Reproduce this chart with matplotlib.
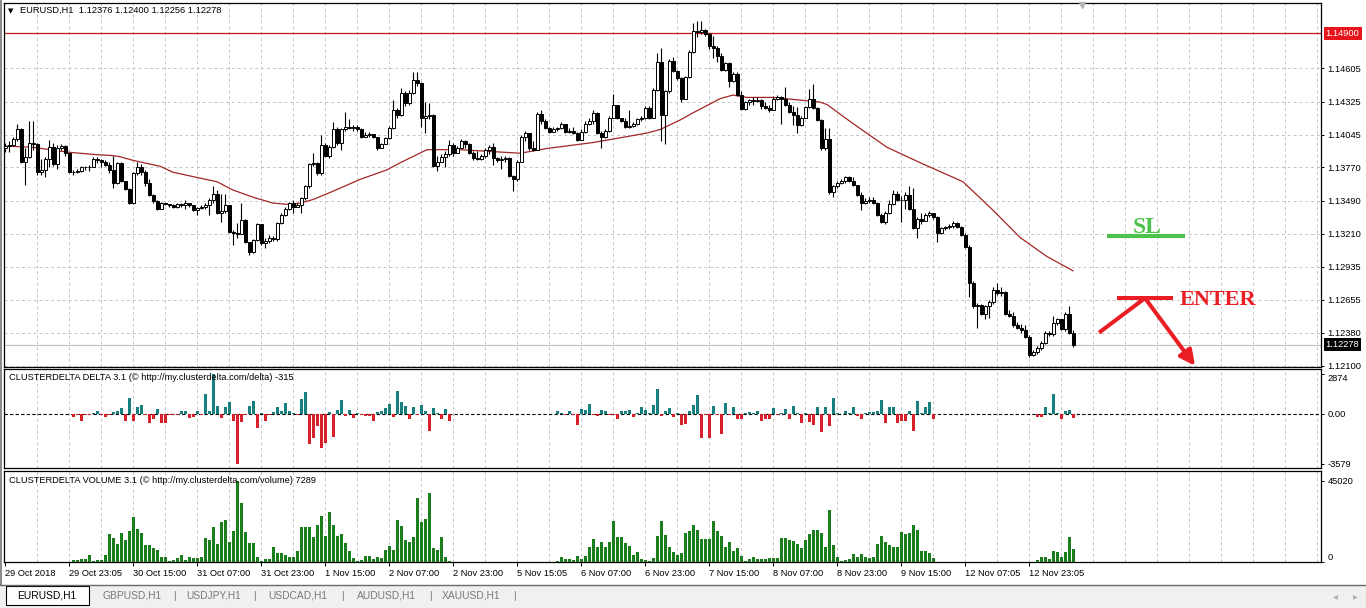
import numpy as np
import matplotlib
matplotlib.use('Agg')
import matplotlib.pyplot as plt
import matplotlib.transforms as mtransforms
from matplotlib.patches import Rectangle
from matplotlib.lines import Line2D
from matplotlib.ticker import FixedLocator

plt.rcParams['font.family'] = ['Liberation Sans', 'DejaVu Sans']

# EURUSD H1 bars, 29 Oct 07:00 .. 13 Nov 10:00 (open = previous close)
first_open = 1.1393
closes = [
    1.1395, 1.1396, 1.1401, 1.1409, 1.1382, 1.1386, 1.1398, 1.1397, 1.1373, 1.1375,
    1.1384, 1.1394, 1.1380, 1.1393, 1.1395, 1.1389, 1.1373, 1.1373, 1.1374, 1.1377,
    1.1377, 1.1377, 1.1384, 1.1383, 1.1382, 1.1379, 1.1375, 1.1364, 1.1381, 1.1366,
    1.1359, 1.1347, 1.1372, 1.1377, 1.1373, 1.1364, 1.1354, 1.1349, 1.1342, 1.1347,
    1.1346, 1.1345, 1.1344, 1.1346, 1.1345, 1.1347, 1.1345, 1.1341, 1.1343, 1.1344,
    1.1345, 1.1350, 1.1355, 1.1339, 1.1340, 1.1345, 1.1323, 1.1322, 1.1321, 1.1333,
    1.1314, 1.1306, 1.1316, 1.1329, 1.1313, 1.1315, 1.1318, 1.1317, 1.1330, 1.1337,
    1.1342, 1.1347, 1.1344, 1.1345, 1.1351, 1.1361, 1.1380, 1.1381, 1.1372, 1.1396,
    1.1387, 1.1394, 1.1409, 1.1398, 1.1409, 1.1411, 1.1410, 1.1411, 1.1409, 1.1403,
    1.1404, 1.1405, 1.1403, 1.1393, 1.1397, 1.1402, 1.1410, 1.1425, 1.1421, 1.1440,
    1.1431, 1.1440, 1.1451, 1.1448, 1.1419, 1.1420, 1.1421, 1.1378, 1.1382, 1.1386,
    1.1388, 1.1396, 1.1389, 1.1393, 1.1399, 1.1397, 1.1389, 1.1385, 1.1384, 1.1387,
    1.1392, 1.1394, 1.1385, 1.1383, 1.1384, 1.1385, 1.1370, 1.1367, 1.1382, 1.1403,
    1.1406, 1.1393, 1.1392, 1.1422, 1.1416, 1.1410, 1.1407, 1.1409, 1.1410, 1.1414,
    1.1407, 1.1408, 1.1406, 1.1400, 1.1407, 1.1414, 1.1416, 1.1423, 1.1406, 1.1403,
    1.1408, 1.1419, 1.1430, 1.1419, 1.1416, 1.1411, 1.1412, 1.1414, 1.1418, 1.1419,
    1.1427, 1.1419, 1.1442, 1.1466, 1.1421, 1.1441, 1.1467, 1.1458, 1.1452, 1.1435,
    1.1453, 1.1474, 1.1492, 1.1491, 1.1493, 1.1489, 1.1479, 1.1478, 1.1471, 1.1459,
    1.1465, 1.1450, 1.1456, 1.1438, 1.1426, 1.1432, 1.1434, 1.1433, 1.1434, 1.1429,
    1.1427, 1.1425, 1.1435, 1.1436, 1.1435, 1.1430, 1.1424, 1.1421, 1.1413, 1.1419,
    1.1428, 1.1435, 1.1427, 1.1417, 1.1393, 1.1401, 1.1356, 1.1361, 1.1364, 1.1366,
    1.1369, 1.1366, 1.1362, 1.1354, 1.1347, 1.1349, 1.1350, 1.1347, 1.1337, 1.1331,
    1.1339, 1.1346, 1.1355, 1.1350, 1.1350, 1.1354, 1.1342, 1.1326, 1.1334, 1.1332,
    1.1337, 1.1339, 1.1335, 1.1322, 1.1326, 1.1327, 1.1328, 1.1330, 1.1327, 1.1320,
    1.1310, 1.1280, 1.1260, 1.1261, 1.1254, 1.1260, 1.1264, 1.1274, 1.1271, 1.1272,
    1.1254, 1.1252, 1.1244, 1.1242, 1.1240, 1.1234, 1.1219, 1.1222, 1.1225, 1.1229,
    1.1238, 1.1237, 1.1246, 1.1249, 1.1241, 1.1254, 1.12376, 1.12278,
]
highs = [
    1.1398, 1.1399, 1.1403, 1.1414, 1.1410, 1.1393, 1.1416, 1.1416, 1.1398, 1.1384,
    1.1386, 1.1400, 1.1398, 1.1396, 1.1397, 1.1396, 1.1385, 1.1375, 1.1376, 1.1378,
    1.1378, 1.1379, 1.1386, 1.1386, 1.1384, 1.1383, 1.1382, 1.1387, 1.1382, 1.1382,
    1.1366, 1.1360, 1.1373, 1.1382, 1.1380, 1.1375, 1.1367, 1.1355, 1.1350, 1.1348,
    1.1347, 1.1346, 1.1346, 1.1347, 1.1347, 1.1350, 1.1347, 1.1345, 1.1344, 1.1345,
    1.1347, 1.1351, 1.1361, 1.1358, 1.1355, 1.1355, 1.1345, 1.1324, 1.1330, 1.1347,
    1.1334, 1.1314, 1.1317, 1.1330, 1.1329, 1.1318, 1.1320, 1.1319, 1.1331, 1.1339,
    1.1344, 1.1348, 1.1350, 1.1347, 1.1352, 1.1362, 1.1381, 1.1389, 1.1382, 1.1404,
    1.1398, 1.1396, 1.1415, 1.1411, 1.1410, 1.1424, 1.1418, 1.1413, 1.1413, 1.1410,
    1.1407, 1.1407, 1.1405, 1.1403, 1.1398, 1.1403, 1.1412, 1.1434, 1.1427, 1.1444,
    1.1441, 1.1442, 1.1457, 1.1457, 1.1449, 1.1432, 1.1431, 1.1422, 1.1387, 1.1388,
    1.1391, 1.1400, 1.1398, 1.1395, 1.1401, 1.1400, 1.1398, 1.1391, 1.1391, 1.1388,
    1.1393, 1.1396, 1.1398, 1.1386, 1.1387, 1.1387, 1.1386, 1.1371, 1.1383, 1.1404,
    1.1408, 1.1405, 1.1399, 1.1424, 1.1425, 1.1418, 1.1411, 1.1411, 1.1411, 1.1415,
    1.1414, 1.1410, 1.1411, 1.1407, 1.1409, 1.1416, 1.1419, 1.1425, 1.1424, 1.1408,
    1.1409, 1.1420, 1.1439, 1.1430, 1.1419, 1.1419, 1.1425, 1.1415, 1.1419, 1.1420,
    1.1429, 1.1429, 1.1444, 1.1473, 1.1478, 1.1442, 1.1468, 1.1470, 1.1459, 1.1453,
    1.1454, 1.1476, 1.1499, 1.1500, 1.1500, 1.1494, 1.1490, 1.1488, 1.1479, 1.1473,
    1.1466, 1.1466, 1.1457, 1.1457, 1.1441, 1.1433, 1.1435, 1.1436, 1.1436, 1.1435,
    1.1432, 1.1430, 1.1437, 1.1438, 1.1437, 1.1445, 1.1432, 1.1429, 1.1428, 1.1420,
    1.1429, 1.1443, 1.1447, 1.1428, 1.1418, 1.1410, 1.1410, 1.1362, 1.1366, 1.1367,
    1.1370, 1.1370, 1.1369, 1.1362, 1.1356, 1.1351, 1.1352, 1.1352, 1.1348, 1.1339,
    1.1340, 1.1350, 1.1358, 1.1357, 1.1353, 1.1356, 1.1361, 1.1360, 1.1335, 1.1339,
    1.1339, 1.1340, 1.1339, 1.1336, 1.1327, 1.1328, 1.1329, 1.1332, 1.1331, 1.1328,
    1.1322, 1.1312, 1.1281, 1.1263, 1.1262, 1.1261, 1.1265, 1.1276, 1.1280, 1.1276,
    1.1273, 1.1257, 1.1255, 1.1247, 1.1245, 1.1244, 1.1236, 1.1223, 1.1227, 1.1231,
    1.1239, 1.1239, 1.1252, 1.1250, 1.1249, 1.1255, 1.1260, 1.12400,
]
lows = [
    1.1390, 1.1390, 1.1395, 1.1399, 1.1381, 1.1362, 1.1385, 1.1392, 1.1371, 1.1371,
    1.1369, 1.1377, 1.1378, 1.1376, 1.1392, 1.1387, 1.1372, 1.1371, 1.1372, 1.1373,
    1.1375, 1.1374, 1.1377, 1.1381, 1.1377, 1.1378, 1.1372, 1.1360, 1.1363, 1.1365,
    1.1358, 1.1346, 1.1346, 1.1371, 1.1371, 1.1361, 1.1353, 1.1347, 1.1341, 1.1342,
    1.1345, 1.1344, 1.1343, 1.1343, 1.1344, 1.1342, 1.1344, 1.1340, 1.1337, 1.1342,
    1.1342, 1.1337, 1.1347, 1.1338, 1.1331, 1.1339, 1.1322, 1.1312, 1.1318, 1.1321,
    1.1313, 1.1303, 1.1305, 1.1315, 1.1312, 1.1309, 1.1313, 1.1315, 1.1315, 1.1329,
    1.1336, 1.1341, 1.1339, 1.1344, 1.1339, 1.1350, 1.1360, 1.1378, 1.1371, 1.1371,
    1.1386, 1.1385, 1.1393, 1.1396, 1.1392, 1.1408, 1.1409, 1.1408, 1.1408, 1.1402,
    1.1403, 1.1403, 1.1402, 1.1392, 1.1393, 1.1397, 1.1401, 1.1409, 1.1419, 1.1420,
    1.1429, 1.1430, 1.1439, 1.1446, 1.1411, 1.1406, 1.1418, 1.1377, 1.1374, 1.1382,
    1.1377, 1.1387, 1.1387, 1.1392, 1.1393, 1.1393, 1.1388, 1.1383, 1.1383, 1.1383,
    1.1385, 1.1388, 1.1379, 1.1382, 1.1376, 1.1382, 1.1369, 1.1357, 1.1366, 1.1382,
    1.1399, 1.1392, 1.1391, 1.1392, 1.1414, 1.1409, 1.1406, 1.1407, 1.1408, 1.1409,
    1.1406, 1.1406, 1.1405, 1.1399, 1.1400, 1.1406, 1.1413, 1.1414, 1.1405, 1.1393,
    1.1402, 1.1407, 1.1419, 1.1418, 1.1415, 1.1410, 1.1410, 1.1411, 1.1413, 1.1416,
    1.1418, 1.1418, 1.1419, 1.1441, 1.1399, 1.1397, 1.1440, 1.1457, 1.1451, 1.1432,
    1.1435, 1.1452, 1.1473, 1.1487, 1.1489, 1.1488, 1.1477, 1.1469, 1.1466, 1.1458,
    1.1458, 1.1445, 1.1449, 1.1437, 1.1425, 1.1425, 1.1430, 1.1430, 1.1432, 1.1426,
    1.1426, 1.1424, 1.1425, 1.1434, 1.1414, 1.1429, 1.1423, 1.1413, 1.1406, 1.1412,
    1.1419, 1.1427, 1.1426, 1.1416, 1.1392, 1.1392, 1.1355, 1.1352, 1.1360, 1.1363,
    1.1364, 1.1365, 1.1361, 1.1353, 1.1341, 1.1346, 1.1347, 1.1346, 1.1336, 1.1330,
    1.1329, 1.1338, 1.1345, 1.1349, 1.1331, 1.1342, 1.1341, 1.1325, 1.1318, 1.1329,
    1.1332, 1.1335, 1.1334, 1.1314, 1.1321, 1.1324, 1.1325, 1.1326, 1.1326, 1.1319,
    1.1309, 1.1268, 1.1259, 1.1242, 1.1253, 1.1249, 1.1250, 1.1262, 1.1270, 1.1269,
    1.1253, 1.1251, 1.1243, 1.1241, 1.1238, 1.1233, 1.1217, 1.1218, 1.1220, 1.1223,
    1.1228, 1.1235, 1.1235, 1.1244, 1.1240, 1.1239, 1.1237, 1.12256,
]

# moving average line, read at sparse bars
ma_idx = [0, 6.9, 15.4, 21.9, 26.9, 28.7, 31.9, 38.7, 41.9, 48.7, 52.9, 56.9, 61.9,
          66.9, 70.4, 73.7, 76.9, 81.9, 88.7, 95.4, 98.7, 105.4, 113.7, 123.7, 128.7,
          135.4, 146.9, 155.4, 160.4, 163.7, 168.7, 171.9, 178.7, 181.9, 185.4, 191.9,
          197.9, 203.7, 205.4, 211.9, 220.4, 228.7, 239.4, 246.9, 253.7, 260.4, 266.9]
ma_vals = [1.1395, 1.1394, 1.1390, 1.1388, 1.1387, 1.1386, 1.1383, 1.1378, 1.1373,
           1.1368, 1.1365, 1.1358, 1.1352, 1.1347, 1.1346, 1.1347, 1.1350, 1.1357,
           1.1367, 1.1375, 1.1381, 1.1392, 1.1392, 1.1390, 1.1389, 1.1393, 1.1398,
           1.1403, 1.1406, 1.1409, 1.1417, 1.1423, 1.1435, 1.1438, 1.1436, 1.1436,
           1.1434, 1.1432, 1.1430, 1.1414, 1.1394, 1.1381, 1.1365, 1.1341, 1.1318,
           1.1302, 1.1290]

# clusterdelta delta / volume, three blocks of bars
block_start = [17, 138, 258]
delta_a = [
    -190, -95, -474, -95, -47, 95, 190, -95, -237, -95,
    142, 237, 427, -474, 1138, -521, 474, 616, -95, -640,
    -332, 332, -640, -640, -95, -47, -95, 190, 237, -284,
    -237, 190, -95, 1422, 237, 2874, 545, -284, 474, 853,
    -474, -3579, -569, -47, 545, 901, -995, 47, -474, -95,
    142, 474, 237, 782, 190, 47, -47, 1090, 1612, -2133,
    -1754, -877, -2465, -2062, 142, -1635, 308, 995, -166, 308,
    -284, 47, -95, -166, -166, -521, 142, 237, 427, 711,
    -237, 1659, 853, 545, -332, 474, -95, 664, 237, -1232,
    427, 47, -332, 379, -474,
]
delta_b = [
    190, 47, -47, 190, -95, -758, 379, 284, 711, -95,
    -166, 308, 190, -95, -95, -332, 190, 237, 308, -237,
    47, 474, 308, 47, 664, 1801, -166, 237, 427, -237,
    47, -758, -711, 190, 616, 1375, -1754, -47, -1754, 545,
    -95, -1469, 782, -95, 474, -332, -332, 47, 142, 47,
    190, -474, -332, -332, 427, -95, 47, 379, -332, 545,
    47, -640, 47, -569, -758, 474, -1280, 474, -877, 1185,
    47, 20, 190, 47, 474, -166, -332, 47, 142, 142,
    237, 1019, -640, 474, 474, -640, -474, -474, 237, -1232,
    901, 47, 474, 853, -332,
]
delta_c = [-194, -194, 499, 83, 1440, 55, -332, 222, 277, -315]

vol_a = [
    923, 923, 1846, 1846, 3692, 738, 923, 1292, 3692, 15506,
    13291, 9968, 16060, 11999, 16983, 24736, 18275, 15876, 9599, 9599,
    7753, 6830, 2584, 2584, 738, 1292, 2215, 3692, 1292, 2584,
    2215, 2215, 2584, 13291, 11999, 19198, 9968, 21967, 23260, 10891,
    17352, 45020, 32674, 16614, 10522, 10522, 2584, 600, 1661, 1661,
    8122, 4984, 4984, 3692, 2584, 2584, 5907, 19198, 19198, 19198,
    13660, 20306, 25290, 14583, 27690, 20675, 14583, 15506, 10522, 5907,
    2215, 738, 923, 3507, 3507, 1661, 2584, 2215, 6830, 8676,
    6830, 23444, 19752, 12368, 11076, 13660, 35443, 22152, 23998, 38212,
    7753, 6830, 13660, 2584, 738,
]
vol_b = [
    738, 2584, 1661, 1661, 1108, 3138, 1661, 3138, 8122, 12737,
    8307, 11076, 8307, 11076, 22521, 13660, 13660, 10522, 8676, 3692,
    5353, 1846, 1292, 300, 2215, 14214, 22521, 15137, 8122, 5538,
    3692, 4984, 16060, 16983, 20306, 17906, 12922, 12922, 12922, 22521,
    16983, 14214, 8122, 10891, 6276, 7753, 3138, 300, 1846, 2584,
    1661, 1661, 1661, 2215, 2215, 2215, 13291, 13291, 11999, 11445,
    10153, 7753, 11999, 15506, 17537, 17906, 16060, 8122, 28613, 9599,
    2584, 300, 1108, 1846, 4430, 2584, 4430, 2584, 2215, 2584,
    9968, 14214, 10891, 9230, 8122, 8122, 16614, 15506, 16060, 20306,
    17537, 5907, 5907, 4984, 2215,
]
vol_c = [1077, 2585, 3016, 1723, 6031, 5385, 3016, 5385, 14001, 7289]

time_labels = ['29 Oct 2018', '29 Oct 23:05', '30 Oct 15:00', '31 Oct 07:00',
               '31 Oct 23:00', '1 Nov 15:00', '2 Nov 07:00', '2 Nov 23:00',
               '5 Nov 15:05', '6 Nov 07:00', '6 Nov 23:00', '7 Nov 15:00',
               '8 Nov 07:00', '8 Nov 23:00', '9 Nov 15:00', '12 Nov 07:05',
               '12 Nov 23:05']
price_ticks = [1.14605, 1.14325, 1.14045, 1.13770, 1.13490, 1.13210, 1.12935,
               1.12655, 1.12380, 1.12100]
level_price = 1.14900
last_price = 1.12278
header = 'EURUSD,H1  1.12376 1.12400 1.12256 1.12278'

# hand-drawn trade idea on the right
sl_price = 1.1319
enter_price = 1.1267
arrow_from = 1.12379
arrow_to = 1.1210

tabs = ['EURUSD,H1', 'GBPUSD,H1', 'USDJPY,H1', 'USDCAD,H1', 'AUDUSD,H1', 'XAUUSD,H1']

W, H = 1366, 608
fig = plt.figure(figsize=(W / 100, H / 100), dpi=100)
fig.patch.set_facecolor('white')


def panel(top, bottom):
    return fig.add_axes([4 / W, 1 - bottom / H, 1317 / W, (bottom - top) / H])


ax1 = panel(3, 367)
ax2 = panel(369, 468)
ax3 = panel(471, 562)

grid_kw = dict(color='#c4c4c4', lw=0.7, ls=(0, (3, 3)))
for ax in (ax1, ax2, ax3):
    ax.set_xlim(-0.35, 328.9)
    ax.xaxis.set_minor_locator(FixedLocator(range(8, 329, 8)))
    ax.xaxis.remove_overlapping_locs = False
    ax.grid(True, which='minor', axis='x', **grid_kw)
    ax.tick_params(axis='x', which='minor', length=0)
    ax.yaxis.tick_right()
    ax.tick_params(axis='y', length=2, width=0.7, pad=2.5, labelsize=6.7)
    for s in ax.spines.values():
        s.set_linewidth(0.9)
    ax.set_axisbelow(True)

# ---- price panel ----
c = np.array(closes)
o = np.r_[first_open, c[:-1]]
hi = np.maximum(np.array(highs), np.maximum(o, c))
lo = np.minimum(np.array(lows), np.minimum(o, c))
idx = np.arange(len(c))

ax1.set_ylim(1.12090, 1.15155)
ax1.set_yticks(price_ticks)
ax1.set_yticklabels(['%.5f' % p for p in price_ticks])
ax1.grid(True, which='major', axis='y', **grid_kw)
ax1.set_xticks([])

ax1.axhline(last_price, color='#bdbdbd', lw=0.8, zorder=1)
ax1.axhline(level_price, color='#c8141e', lw=0.9, zorder=2)
ax1.plot(ma_idx, ma_vals, color='#a32626', lw=0.9, zorder=2)
ax1.vlines(idx, lo, hi, color='black', lw=0.8, zorder=3)
ax1.bar(idx, np.abs(c - o), bottom=np.minimum(o, c), width=0.55,
        color=np.where(c >= o, 'white', 'black'), edgecolor='black', lw=0.7, zorder=4)

tr1 = mtransforms.blended_transform_factory(ax1.transAxes, ax1.transData)
ax1.text(1.0035, level_price, '%.5f' % level_price, transform=tr1, color='white',
         fontsize=6.7, va='center', ha='left',
         bbox=dict(boxstyle='square,pad=0.22', fc='#e8141c', ec='none'))
ax1.text(1.0035, last_price, '%.5f' % last_price, transform=tr1, color='white',
         fontsize=6.7, va='center', ha='left',
         bbox=dict(boxstyle='square,pad=0.22', fc='black', ec='none'))

fig.text(8 / W, 1 - 10.7 / H, '\u25bc', fontsize=5, va='center', family='DejaVu Sans')
fig.text(20.5 / W, 1 - 10.7 / H, header, fontsize=6.7, va='center')
fig.add_artist(Line2D([1082 / W], [1 - 5 / H], marker='v', ms=5, color='#b4b4b4',
                      transform=fig.transFigure))

# trade idea drawing
red = '#ea1c24'
green = '#4cc24c'
ax1.plot([275.4, 294.9], [sl_price, sl_price], color=green, lw=3.0,
         solid_capstyle='butt', zorder=6)
ax1.text(285.4, 1.1322, 'SL', color=green, fontsize=17, fontweight='bold',
         family='Liberation Serif', ha='center', va='baseline', zorder=6)
ax1.plot([277.8, 292.0], [enter_price, enter_price], color=red, lw=2.9,
         solid_capstyle='butt', zorder=6)
ax1.text(293.6, 1.12608, 'ENTER', color=red, fontsize=16, fontweight='bold',
         family='Liberation Serif', ha='left', va='baseline', zorder=6)
ax1.plot([273.4, 284.9], [arrow_from, enter_price], color=red, lw=2.9,
         solid_capstyle='butt', zorder=6)
ax1.annotate('', xy=(297.4, arrow_to), xytext=(284.9, enter_price),
             arrowprops=dict(arrowstyle='-|>,head_length=0.9,head_width=0.45',
                             color=red, lw=2.9, shrinkA=0, shrinkB=0),
             annotation_clip=False, zorder=6)

# ---- delta panel ----
teal = '#17807e'
dred = '#d8202a'
for start, vals in zip(block_start, (delta_a, delta_b, delta_c)):
    v = np.array(vals)
    ax2.bar(np.arange(start, start + len(v)), v, width=0.75,
            color=np.where(v >= 0, teal, dred), lw=0, zorder=3)
ax2.set_ylim(-3880, 3233)
ax2.axhline(0, color='black', lw=0.8, ls=(0, (3, 2)), zorder=2)
ax2.set_xticks([])
ax2.set_yticks([2874, 0, -3579])
ax2.set_yticklabels(['2874', '0.00', '-3579'])
ax2.get_yticklabels()[0].set_va('top')
ax2.text(0.004, 0.91, 'CLUSTERDELTA DELTA 3.1 (\u00a9 http://my.clusterdelta.com/delta) -315',
         transform=ax2.transAxes, fontsize=6.7, va='center')

# ---- volume panel ----
for start, vals in zip(block_start, (vol_a, vol_b, vol_c)):
    ax3.bar(np.arange(start, start + len(vals)), vals, width=0.75,
            color='#1b7d1b', lw=0, zorder=3)
ax3.set_ylim(0, 50557)
ax3.set_yticks([45020, 0])
ax3.set_yticklabels(['45020', '0'])
ax3.get_yticklabels()[1].set_va('bottom')
ax3.text(0.004, 0.9, 'CLUSTERDELTA VOLUME 3.1 (\u00a9 http://my.clusterdelta.com/volume) 7289',
         transform=ax3.transAxes, fontsize=6.7, va='center')
ax3.set_xticks(np.arange(0, 16 * len(time_labels), 16))
ax3.set_xticklabels(time_labels, fontsize=6.7)
for t in ax3.get_xticklabels():
    t.set_ha('left')
ax3.tick_params(axis='x', which='major', length=3, width=0.7, pad=2)

# ---- window chrome ----
fig.add_artist(Rectangle((0, 1 - 585 / H), 2 / W, 585 / H, transform=fig.transFigure,
                         fc='#8c8c8c', ec='none'))
fig.add_artist(Rectangle((0, 0), 1, 1 - 585 / H, transform=fig.transFigure,
                         fc='#f0f0f0', ec='none'))
fig.add_artist(Line2D([0, 1], [1 - 585 / H] * 2, color='#6a6a6a', lw=1,
                      transform=fig.transFigure))
fig.add_artist(Rectangle((6 / W, 1 - 605 / H), 83 / W, 19 / H, transform=fig.transFigure,
                         fc='white', ec='black', lw=0.8))
tab_x = [47, 132, 214, 298, 386, 471]
for i, (name, x) in enumerate(zip(tabs, tab_x)):
    fig.text(x / W, 1 - 596 / H, name, fontsize=7.4, ha='center', va='center',
             color='black' if i == 0 else '#7a7a7a')
for x in [174, 254, 342, 430, 514]:
    fig.text(x / W, 1 - 596 / H, '|', fontsize=7.4, ha='center', va='center', color='#7a7a7a')
fig.text(1335 / W, 1 - 596 / H, '\u25c2', fontsize=7, ha='center', va='center',
         color='#b0b0b0', family='DejaVu Sans')
fig.text(1355 / W, 1 - 596 / H, '\u25b8', fontsize=7, ha='center', va='center',
         color='#b0b0b0', family='DejaVu Sans')

fig.savefig('out.png', dpi=100)
